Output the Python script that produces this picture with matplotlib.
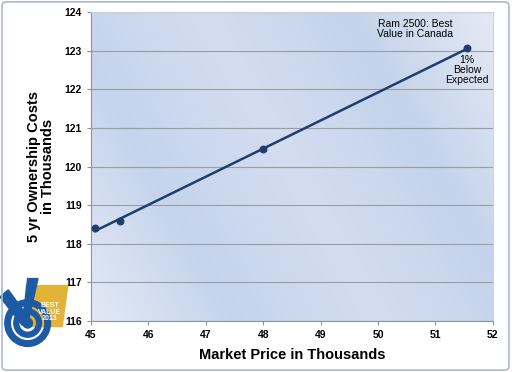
import numpy as np
import matplotlib.pyplot as plt
from matplotlib.patches import FancyBboxPatch, Polygon, Circle, Wedge
from matplotlib.colors import LinearSegmentedColormap

# data
price = [45.07, 45.5, 48.0, 51.55]
cost = [118.40, 118.58, 120.45, 123.06]
xticks = [45, 46, 47, 48, 49, 50, 51, 52]
yticks = [116, 117, 118, 119, 120, 121, 122, 123, 124]

navy = "#1f3e6d"

fig = plt.figure(figsize=(5.12, 3.72), dpi=100)
fig.patch.set_facecolor("white")

# outer rounded border
fig.patches.append(FancyBboxPatch((0.004, 0.005), 0.99, 0.99,
                                  boxstyle="round,pad=0,rounding_size=0.01",
                                  transform=fig.transFigure, fill=False,
                                  edgecolor="#a9b9d3", linewidth=1.2))

ax = fig.add_axes([0.1777, 0.137, 0.785, 0.8306])

# gradient background of the plot area
cmap = LinearSegmentedColormap.from_list(
    "bg", ["#e2e9f5", "#c5d4ec", "#d3ddf0", "#c4d3eb", "#e4eaf5"])
gx, gy = np.meshgrid(np.linspace(0, 1, 200), np.linspace(0, 1, 200))
grad = (gx * 0.8 + (1 - gy) * 0.35) / 1.15
ax.imshow(grad, cmap=cmap, extent=[45, 52, 116, 124], aspect="auto",
          origin="upper", zorder=0)

ax.set_xlim(45, 52)
ax.set_ylim(116, 124)
ax.set_xticks(xticks)
ax.set_yticks(yticks)
ax.grid(axis="y", color="#9a9da1", linewidth=0.8, zorder=1)
for side in ["top", "right"]:
    ax.spines[side].set_color("#c9d3e3")
for side in ["left", "bottom"]:
    ax.spines[side].set_color("#8f9296")
ax.tick_params(colors="black", labelsize=7.5, length=3, color="#8f9296")
for lab in ax.get_xticklabels() + ax.get_yticklabels():
    lab.set_fontweight("bold")
    lab.set_family("Liberation Sans")

# linear trend line + points
m, b = np.polyfit(price, cost, 1)
xs = np.array([min(price), max(price)])
ax.plot(xs, m * xs + b, color=navy, linewidth=1.8, zorder=3)
ax.scatter(price, cost, s=22, color=navy, zorder=4)

ax.set_xlabel("Market Price in Thousands", fontsize=10.5, fontweight="bold",
              family="Liberation Sans", labelpad=6)
ax.set_ylabel("5 yr Ownership Costs\nin Thousands", fontsize=10.5,
              fontweight="bold", family="Liberation Sans", labelpad=7,
              linespacing=1.0)

ax.text(50.65, 123.3, "Ram 2500: Best\nValue in Canada", ha="center",
        va="bottom", fontsize=7.5, family="Liberation Sans", linespacing=1.05)
ax.text(51.55, 122.9, "1%\nBelow\nExpected", ha="center", va="top",
        fontsize=7.5, family="Liberation Sans", linespacing=1.05)

# simplified badge in the lower left corner
bx = fig.add_axes([0.0, 0.065, 0.135, 0.19])
bx.set_xlim(0, 1)
bx.set_ylim(0, 1)
bx.axis("off")
bx.add_patch(Polygon([[0.38, 0.88], [0.98, 0.88], [0.9, 0.3], [0.38, 0.3]],
                     closed=True, color="#e3b337"))
bx.add_patch(Wedge((0.4, 0.35), 0.33, 0, 360, width=0.08, color="#1d5aa6"))
bx.add_patch(Wedge((0.4, 0.35), 0.2, 0, 360, width=0.07, color="#1d5aa6"))
bx.add_patch(Circle((0.4, 0.35), 0.07, color="#1d5aa6"))
bx.add_patch(Polygon([[0.0, 0.72], [0.12, 0.82], [0.42, 0.42], [0.32, 0.32]],
                     closed=True, color="#1d5aa6"))
bx.add_patch(Polygon([[0.32, 0.32], [0.42, 0.42], [0.55, 0.98], [0.4, 0.98]],
                     closed=True, color="#1d5aa6"))
bx.text(0.72, 0.5, "BEST\nVALUE\n2013", ha="center", va="center",
        fontsize=5, fontweight="bold", color="white", linespacing=0.9,
        family="Liberation Sans")

fig.savefig("out.png", dpi=100)
